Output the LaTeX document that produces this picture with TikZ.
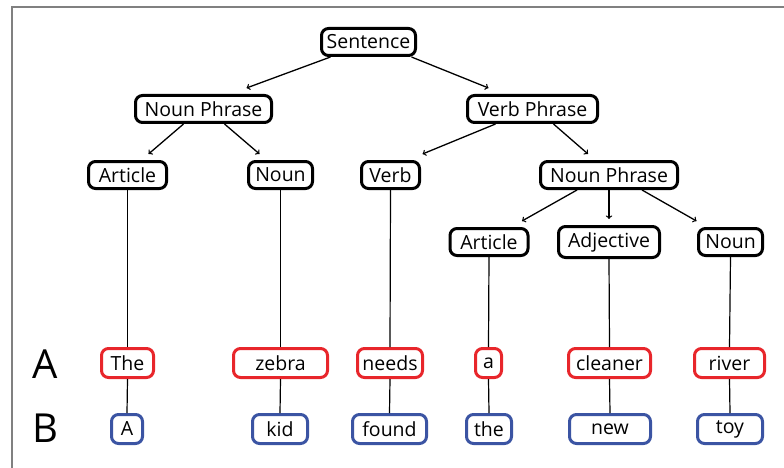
\documentclass[tikz,border=0pt]{standalone}
\usepackage{fontspec}
\setmainfont{Open Sans}
\usepackage{tikz}
\usetikzlibrary{arrows}
\definecolor{wred}{rgb}{.91,.15,.17}
\definecolor{wblue}{rgb}{.23,.33,.64}
\definecolor{fgray}{rgb}{.5,.5,.5}
\tikzstyle{cat}=[draw=black, line width=3pt, rounded corners=7pt, inner sep=0pt,
  minimum height=27pt, fill=white, font=\fontsize{19.5}{21}\selectfont]
\tikzstyle{worda}=[cat, draw=wred, minimum height=29pt]
\tikzstyle{wordb}=[cat, draw=wblue, minimum height=29pt]
\tikzstyle{arr}=[-to, line width=1.3pt]

\begin{document}
\begin{tikzpicture}[x=1pt, y=-1pt]

      \useasboundingbox (0,0) rectangle (784,468);
      \draw[fgray, line width=2pt] (12,468) -- (12,7) -- (784,7);

      % tree
      \node[cat, minimum width=94pt] (sent) at (368.5,42) {Sentence};
      \node[cat, minimum width=136pt] (np1) at (203.5,109) {Noun Phrase};
      \node[cat, minimum width=130pt] (vp) at (532.5,109) {Verb Phrase};

      \node[cat, minimum width=78pt] (art1) at (127.5,175) {Article};
      \node[cat, minimum width=64pt] (noun1) at (280.5,175) {Noun};
      \node[cat, minimum width=58pt] (verb) at (390.5,175) {Verb};
      \node[cat, minimum width=137pt] (np2) at (609,175) {Noun Phrase};

      \node[cat, minimum width=78pt] (art2) at (489,242) {Article};
      \node[cat, minimum width=101pt, minimum height=31pt] (adj) at (609,242) {Adjective};
      \node[cat, minimum width=64pt] (noun2) at (730.5,242) {Noun};

      \foreach \a/\da/\b/\db in {sent/-38/np1/43, sent/43/vp/-44,
                                 np1/-20/art1/21, np1/21/noun1/-21,
                                 vp/-37/verb/32, vp/21/np2/-21,
                                 np2/-32/art2/33, np2/0/adj/0, np2/33/noun2/-34}
        \draw[arr] ([xshift=\da pt]\a.south) -- ([xshift=\db pt, yshift=6pt]\b.north);

      % sentence A
      \node[font=\fontsize{40}{42}\selectfont, inner sep=0pt] (la) at (45,364) {A};
      \node[worda, minimum width=52pt] (a1) at (127.5,363) {The};
      \node[worda, minimum width=94pt] (a2) at (280.5,363) {zebra};
      \node[worda, minimum width=65pt] (a3) at (390,363) {needs};
      \node[worda, minimum width=26pt] (a4) at (488.5,363) {a};
      \node[worda, minimum width=82pt] (a5) at (609.5,363) {cleaner};
      \node[worda, minimum width=70pt] (a6) at (729.5,363) {river};

      % sentence B
      \node[font=\fontsize{40}{42}\selectfont, inner sep=0pt] (lb) at (45,428) {B};
      \node[wordb, minimum width=31pt] (b1) at (127,429) {A};
      \node[wordb, minimum width=55pt] (b2) at (280,429) {kid};
      \node[wordb, minimum width=74pt] (b3) at (389.5,429) {found};
      \node[wordb, minimum width=45pt] (b4) at (489,429) {the};
      \node[wordb, minimum width=81pt] (b5) at (610,429) {new};
      \node[wordb, minimum width=65pt] (b6) at (730,429) {toy};

      \foreach \c/\w/\v in {art1/a1/b1, noun1/a2/b2, verb/a3/b3,
                            art2/a4/b4, adj/a5/b5, noun2/a6/b6}
      {
        \draw[line width=1.2pt] (\c.south) -- (\w.north);
        \draw[line width=1.2pt] (\w.south) -- (\v.north);
      }

\end{tikzpicture}
\end{document}
